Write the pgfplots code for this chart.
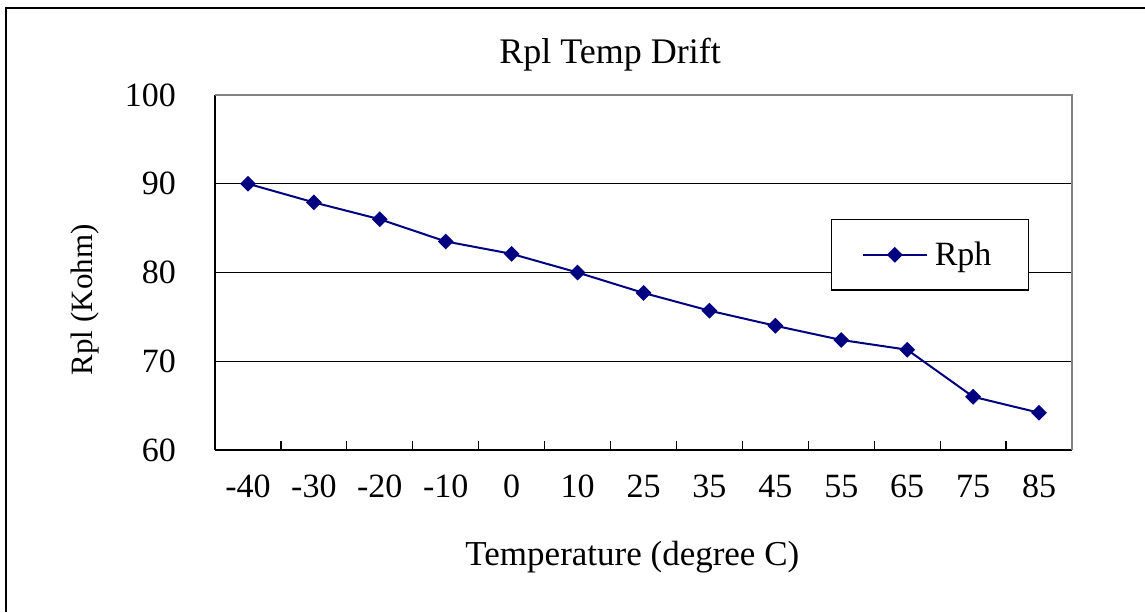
\documentclass[border=0pt]{standalone}
\usepackage{fontspec}
\setmainfont{Liberation Serif}
\usepackage{pgfplots}
\pgfplotsset{compat=1.18}
\definecolor{navyline}{RGB}{0,0,128}
\definecolor{frame}{RGB}{130,130,130}

\begin{document}
\begin{tikzpicture}
  \useasboundingbox (0,0) rectangle (572.5pt,306pt);
  % outer chart frame (only left and top edges are visible)
  \draw[black, line width=0.8pt] (3pt,0pt) -- (3pt,302pt) -- (572.5pt,302pt);

  \begin{axis}[
      at={(107.5pt,81pt)}, anchor=south west,
      scale only axis,
      width=428.5pt, height=177.5pt,
      font=\fontsize{17}{20}\selectfont,
      axis lines=left,
      axis line style={-, black, line width=1pt},
      tick align=inside,
      xmin=-0.5, xmax=12.5,
      ymin=60, ymax=100,
      xtick={0,...,12},
      xticklabels={-40,-30,-20,-10,0,10,25,35,45,55,65,75,85},
      minor xtick={0.5,1.5,...,11.5},
      major x tick style={draw=none},
      minor tick length=4.5pt,
      ytick={60,70,80,90,100},
      major tick length=5pt,
      tick style={black, line width=0.6pt},
      ymajorgrids,
      grid style={black, line width=0.5pt},
      /pgf/number format/assume math mode=true,
      yticklabel style={xshift=-16pt},
      xticklabel style={yshift=-9pt},
      title={Rpl Temp Drift},
      title style={at={(axis description cs:0.461,1.08)}, anchor=center,
        font=\fontsize{18}{21}\selectfont},
      xlabel={Temperature (degree C)},
      xlabel style={at={(axis description cs:0.487,-0.301)}, anchor=center,
        font=\fontsize{17.5}{20}\selectfont},
      ylabel={Rpl (Kohm)},
      ylabel style={at={(axis description cs:-0.152,0.423)}, anchor=center,
        font=\fontsize{15.5}{18}\selectfont},
      legend style={at={(axis description cs:0.719,0.651)}, anchor=north west,
        draw=black, line width=0.6pt, inner xsep=15pt, inner ysep=9pt,
        font=\fontsize{17}{20}\selectfont,
        nodes={inner xsep=3.5pt}},
      legend image code/.code={%
        \draw[#1, mark repeat=2, mark phase=2]
          plot coordinates {(0pt,0pt) (16pt,0pt) (32pt,0pt)};},
      clip=false,
    ]
    \addplot[navyline, line width=1pt, mark=square*,
             mark size=2.3pt, mark options={rotate=45, solid}]
      coordinates {
        (0,90.0) (1,87.9) (2,86.0) (3,83.5) (4,82.1) (5,80.0) (6,77.7)
        (7,75.7) (8,74.0) (9,72.4) (10,71.3) (11,66.0) (12,64.2)
      };
    \legend{Rph}
    % plot area top and right borders are grey
    \draw[frame, line width=1pt] (rel axis cs:0,1) -- (rel axis cs:1,1) -- (rel axis cs:1,0);
  \end{axis}
\end{tikzpicture}
\end{document}
